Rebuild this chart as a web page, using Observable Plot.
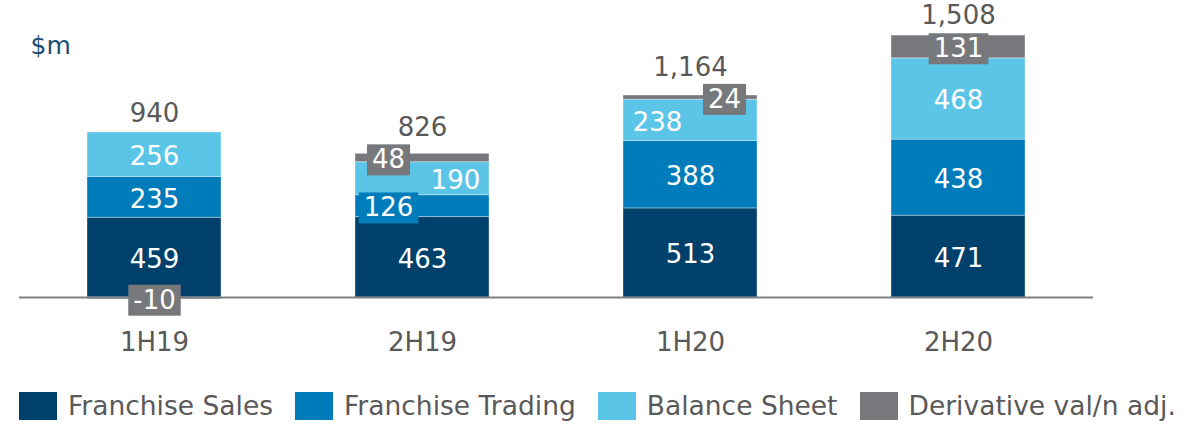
<!DOCTYPE html>
<html>
<head>
<meta charset="utf-8">
<script src="https://cdn.jsdelivr.net/npm/d3@7"></script>
<script src="https://cdn.jsdelivr.net/npm/@observablehq/plot@0.6"></script>
<style>
  html, body { margin: 0; padding: 0; background: #fff; }
  body { width: 1204px; height: 425px; overflow: hidden; font-family: "DejaVu Sans", Verdana, sans-serif; }
  #legend { display: flex; align-items: center; height: 28px; margin-top: 7px; padding-left: 19px; color: #595959; font-size: 26.5px; white-space: nowrap; }
  #legend .sw { width: 38px; height: 28px; margin-right: 11px; flex: none; }
  #legend .lab { margin-right: 22px; line-height: 28px; }
</style>
</head>
<body>
<div id="chart"></div>
<div id="legend"></div>
<script>
// ---- data ----
const periods = ["1H19", "2H19", "1H20", "2H20"];
const seriesNames = ["Franchise Sales", "Franchise Trading", "Balance Sheet", "Derivative val/n adj."];
const franchiseSales = [459, 463, 513, 471];
const franchiseTrading = [235, 126, 388, 438];
const balanceSheet = [256, 190, 238, 468];
const derivativeAdj = [-10, 48, 24, 131];
const totals = [940, 826, 1164, 1508];
const unitLabel = "$m";

// ---- styling ----
const colors = ["#00416B", "#007CBA", "#5BC5E8", "#77787B"];
const textGrey = "#595959";
const seriesValues = [franchiseSales, franchiseTrading, balanceSheet, derivativeAdj];
// label nudges (px) and boxed labels, keyed "period|series"
const nudgeX = {
  "2H19|Franchise Trading": -34, "2H19|Balance Sheet": 33, "2H19|Derivative val/n adj.": -34,
  "1H20|Balance Sheet": -33, "1H20|Derivative val/n adj.": 34
};
const boxedClass = {
  "2H19|Franchise Trading": "box-trading",
  "1H19|Derivative val/n adj.": "box-deriv", "2H19|Derivative val/n adj.": "box-deriv",
  "1H20|Derivative val/n adj.": "box-deriv", "2H20|Derivative val/n adj.": "box-deriv"
};
const totalDy = [-19, -26, -28, -20];

// ---- table ----
const rows = [];
periods.forEach((p, i) => {
  let pos = 0, neg = 0;
  seriesNames.forEach((s, j) => {
    const v = seriesValues[j][i];
    let mid;
    if (v >= 0) { mid = pos + v / 2; pos += v; } else { mid = neg + v / 2; neg += v; }
    rows.push({period: p, series: s, value: v, mid});
  });
});
const tops = periods.map(p => d3.sum(rows.filter(r => r.period === p && r.value > 0), r => r.value));
const totalRows = periods.map((p, i) => ({period: p, total: totals[i], top: tops[i], dy: totalDy[i]}));

const labelMarks = rows.map(r => {
  const key = r.period + "|" + r.series;
  return Plot.text([r], {
    x: "period", y: "mid", text: d => String(d.value),
    fill: "white", fontSize: 26, dx: nudgeX[key] || 0, dy: 2,
    className: boxedClass[key]
  });
});
const totalMarks = totalRows.map(t => Plot.text([t], {
  x: "period", y: "top", text: d => d3.format(",")(d.total),
  fill: textGrey, fontSize: 26, dy: t.dy
}));

const chart = Plot.plot({
  width: 1204,
  height: 385,
  marginTop: 0,
  marginBottom: 88,
  marginLeft: 19,
  marginRight: 111,
  style: {fontFamily: "DejaVu Sans, Verdana, sans-serif", fontSize: "26px", background: "white"},
  x: {domain: periods, paddingInner: 0.5, paddingOuter: 0.25, label: null},
  y: {domain: [0, 1710], range: [297, 0], axis: null},
  color: {domain: seriesNames, range: colors},
  marks: [
    Plot.barY(rows, {x: "period", y: "value", fill: "series", order: seriesNames,
      stroke: "white", strokeOpacity: 0.35, strokeWidth: 1}),
    Plot.ruleY([0], {stroke: "#7f7f7f", strokeWidth: 2}),
    Plot.axisX({tickSize: 0, tickPadding: 35, fontSize: 26, fill: textGrey, label: null}),
    ...labelMarks,
    ...totalMarks,
    Plot.text([unitLabel], {frameAnchor: "top-left", text: d => d, dx: 11, dy: 45,
      lineAnchor: "middle", textAnchor: "start", fill: "#1B4F72", fontSize: 25})
  ]
});
document.getElementById("chart").appendChild(chart);

// label boxes
const boxFill = {"box-trading": colors[1], "box-deriv": colors[3]};
Object.keys(boxFill).forEach(cls => {
  chart.querySelectorAll("g." + cls + " text").forEach(t => {
    const b = t.getBBox();
    const rect = document.createElementNS("http://www.w3.org/2000/svg", "rect");
    rect.setAttribute("x", b.x - 5);
    rect.setAttribute("y", b.y);
    rect.setAttribute("width", b.width + 10);
    rect.setAttribute("height", b.height + 1);
    rect.setAttribute("fill", boxFill[cls]);
    const tr = t.getAttribute("transform");
    if (tr) rect.setAttribute("transform", tr);
    t.parentNode.insertBefore(rect, t);
  });
});

// legend
const legend = document.getElementById("legend");
seriesNames.forEach((s, i) => {
  const sw = document.createElement("span");
  sw.className = "sw"; sw.style.background = colors[i];
  const lab = document.createElement("span");
  lab.className = "lab"; lab.textContent = s;
  legend.appendChild(sw); legend.appendChild(lab);
});
</script>
</body>
</html>
